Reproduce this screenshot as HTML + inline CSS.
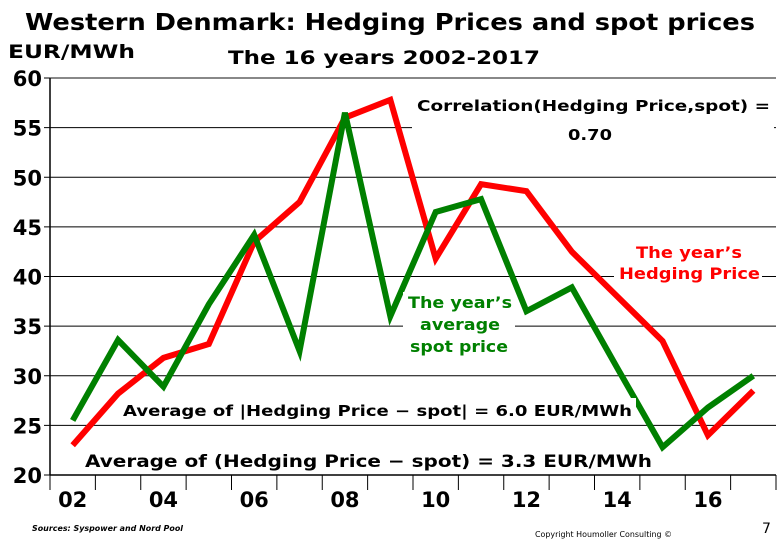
<!DOCTYPE html>
<html><head><meta charset="utf-8"><style>
body{margin:0;background:#fff;}
svg text{font-family:"DejaVu Sans","Liberation Sans",sans-serif;font-weight:bold;}
</style></head><body>
<svg width="780" height="540" viewBox="0 0 780 540" xmlns="http://www.w3.org/2000/svg">
<g id="grid"></g>
<g id="axes"></g>
<g id="series"></g>
<text x="25" y="30" font-size="23" textLength="730" lengthAdjust="spacingAndGlyphs">Western Denmark: Hedging Prices and spot prices</text>
<text x="8" y="58" font-size="19" textLength="127" lengthAdjust="spacingAndGlyphs">EUR/MWh</text>
<text x="228" y="64" font-size="19" textLength="312" lengthAdjust="spacingAndGlyphs">The 16 years 2002-2017</text>
<rect x="412" y="92" width="362" height="56" fill="#fff"/>
<text x="417" y="111" font-size="15" textLength="353" lengthAdjust="spacingAndGlyphs">Correlation(Hedging Price,spot) =</text>
<text x="568" y="140" font-size="15" textLength="44" lengthAdjust="spacingAndGlyphs">0.70</text>
<rect x="614" y="240" width="148" height="46" fill="#fff"/>
<text x="636" y="258" font-size="16" fill="#ff0000" textLength="106" lengthAdjust="spacingAndGlyphs">The year’s</text>
<text x="619" y="279" font-size="16" fill="#ff0000" textLength="141" lengthAdjust="spacingAndGlyphs">Hedging Price</text>
<rect x="403" y="292" width="112" height="64" fill="#fff"/>
<text x="408" y="308" font-size="16" fill="#008000" textLength="104" lengthAdjust="spacingAndGlyphs">The year’s</text>
<text x="420" y="330" font-size="16" fill="#008000" textLength="80" lengthAdjust="spacingAndGlyphs">average</text>
<text x="410" y="352" font-size="16" fill="#008000" textLength="98" lengthAdjust="spacingAndGlyphs">spot price</text>
<rect x="118" y="398" width="518" height="24" fill="#fff"/>
<text x="123" y="416" font-size="15" textLength="509" lengthAdjust="spacingAndGlyphs">Average of |Hedging Price − spot|  =  6.0 EUR/MWh</text>
<text x="85" y="467" font-size="17" textLength="567" lengthAdjust="spacingAndGlyphs">Average of (Hedging Price − spot)  =  3.3 EUR/MWh</text>
<text x="32" y="531" font-size="8" font-style="italic" textLength="151" lengthAdjust="spacingAndGlyphs">Sources: Syspower and Nord Pool</text>
<text x="535" y="537" font-size="8" style="font-weight:normal" textLength="137" lengthAdjust="spacingAndGlyphs">Copyright Houmoller Consulting ©</text>
<text x="762" y="533" font-size="14" style="font-weight:normal">7</text>
</svg>
<script>
const years=["02","03","04","05","06","07","08","09","10","11","12","13","14","15","16","17"];
const yTicks=[20,25,30,35,40,45,50,55,60];
const hedging=[23,28.2,31.8,33.2,43.5,47.5,56,57.8,41.8,49.3,48.6,42.5,38,33.5,24,28.5];
const spot=[25.5,33.6,28.9,37.2,44.2,32.5,56.5,36,46.5,47.8,36.5,38.9,30.8,22.8,26.8,30];
const L=50,R=776,T=78,B=475,yMin=20,yMax=60;
const step=(R-L)/years.length;
const xs=i=>L+step*(i+0.5);
const ys=v=>B-(v-yMin)/(yMax-yMin)*(B-T);
const NS="http://www.w3.org/2000/svg";
function mk(tag,attrs,parent){const e=document.createElementNS(NS,tag);for(const k in attrs)e.setAttribute(k,attrs[k]);parent.appendChild(e);return e;}
const grid=document.getElementById('grid'),axes=document.getElementById('axes'),series=document.getElementById('series');
yTicks.forEach(v=>{
 const y=ys(v);
 if(v>yMin){const g=mk('line',{x1:L,x2:R,y1:y,y2:y,stroke:v===yMax?'#888':'#000','stroke-width':v===yMax?2:1},grid);
 
 }
 const t=mk('line',{x1:L-6,x2:L,y1:y,y2:y,stroke:'#000'},axes);
 
 
 const tx=mk('text',{x:L-8,y:y+8,'text-anchor':'end','font-size':21},axes);tx.textContent=v;
 
 
});
const ya=mk('line',{x1:L,x2:L,y1:T,y2:B,stroke:'#000','stroke-width':1.5},axes);


const xa=mk('line',{x1:L,x2:R,y1:B,y2:B,stroke:'#000','stroke-width':1.5},axes);


for(let i=0;i<=years.length;i++){
 const x=L+step*i;
 const t=mk('line',{x1:x,x2:x,y1:B,y2:B+15,stroke:'#000'},axes);
 
 
}
years.forEach((y,i)=>{if(i%2)return;
 const tx=mk('text',{x:xs(i),y:B+32,'text-anchor':'middle','font-size':21},axes);tx.textContent=y;
 
 
});
function line(arr,color,name){
 const p=mk('polyline',{points:arr.map((v,i)=>xs(i)+','+ys(v)).join(' '),fill:'none',stroke:color,'stroke-width':6,'stroke-linejoin':'miter'},series);
 
 
}
line(hedging,'#ff0000','hedging-price-line');
line(spot,'#008000','spot-price-line');
const svg=document.querySelector('svg');
[...svg.children].forEach(c=>{if(c.tagName==='rect'||c.tagName==='text')svg.appendChild(c);});
</script>
</body></html>
